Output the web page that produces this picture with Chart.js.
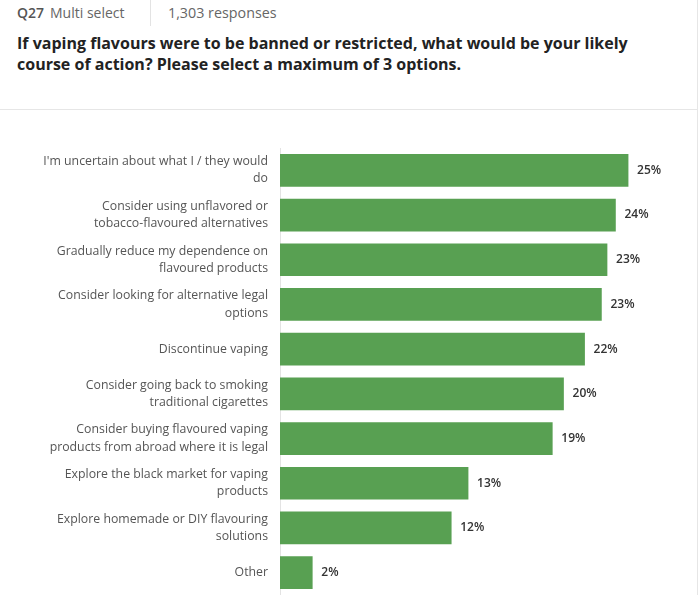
<!DOCTYPE html>
<html>
<head>
<meta charset="utf-8">
<script src="https://cdn.jsdelivr.net/npm/chart.js@4"></script>
<style>
  html, body { margin: 0; padding: 0; background: #fff; }
  body { width: 700px; height: 595px; position: relative; overflow: hidden; font-family: "Open Sans", Lato, sans-serif; }
  #frame { position: absolute; left: 0; top: 0; width: 697px; height: 595px; border-right: 1px solid #e6e6e6; }
  #meta { position: absolute; left: 17px; top: 3px; font-size: 14px; color: #666; white-space: nowrap; }
  #meta b { color: #555; font-weight: 600; margin-right: 6px; }
  #sep { position: absolute; left: 150px; top: 0; width: 1px; height: 26px; background: #e3e3e3; }
  #resp { position: absolute; left: 168px; top: 3px; font-size: 14.3px; color: #666; white-space: nowrap; }
  #title { position: absolute; left: 17px; top: 33px; width: 680px; font-size: 16px; line-height: 21px; font-weight: 700; color: #222; white-space: nowrap; }
  #hr { position: absolute; left: 0; top: 109px; width: 697px; height: 1px; background: #e6e6e6; }
  #wrap { position: absolute; left: 0; top: 110px; width: 697px; height: 485px; }
</style>
</head>
<body>
<div id="frame"></div>
<div id="meta"><b>Q27</b>Multi select</div>
<div id="sep"></div>
<div id="resp">1,303 responses</div>
<div id="title">If vaping flavours were to be banned or restricted, what would be your likely<br>course of action? Please select a maximum of 3 options.</div>
<div id="hr"></div>
<div id="wrap"><canvas id="c"></canvas></div>
<script>
const categories = [
  ["I'm uncertain about what I / they would", "do"],
  ["Consider using unflavored or", "tobacco-flavoured alternatives"],
  ["Gradually reduce my dependence on", "flavoured products"],
  ["Consider looking for alternative legal", "options"],
  ["Discontinue vaping"],
  ["Consider going back to smoking", "traditional cigarettes"],
  ["Consider buying flavoured vaping", "products from abroad where it is legal"],
  ["Explore the black market for vaping", "products"],
  ["Explore homemade or DIY flavouring", "solutions"],
  ["Other"]
];
const values = [24.8, 23.9, 23.3, 22.9, 21.7, 20.2, 19.4, 13.4, 12.2, 2.3];
const valueLabels = ["25%", "24%", "23%", "23%", "22%", "20%", "19%", "13%", "12%", "2%"];
const xMax = 28;

const labelPlugin = {
  id: 'valueLabels',
  afterDatasetsDraw(chart) {
    const ctx = chart.ctx;
    const meta = chart.getDatasetMeta(0);
    ctx.save();
    ctx.font = '600 12px "Open Sans", Lato, sans-serif';
    ctx.fillStyle = '#333';
    ctx.textBaseline = 'middle';
    ctx.textAlign = 'left';
    meta.data.forEach((bar, i) => {
      ctx.fillText(valueLabels[i], bar.x + 9, bar.y);
    });
    ctx.restore();
  }
};

new Chart(document.getElementById('c'), {
  type: 'bar',
  data: {
    labels: categories,
    datasets: [{
      data: values,
      backgroundColor: '#58a052',
      borderWidth: 0,
      barThickness: 32
    }]
  },
  options: {
    indexAxis: 'y',
    responsive: true,
    maintainAspectRatio: false,
    animation: false,
    layout: { padding: { top: 38, bottom: 0, right: 24, left: 0 } },
    plugins: { legend: { display: false }, tooltip: { enabled: false } },
    scales: {
      x: { display: false, min: 0, max: xMax },
      y: {
        grid: { display: false, drawTicks: false },
        border: { display: true, color: '#e3e3e3', width: 1 },
        ticks: {
          padding: 12,
          color: '#555',
          font: { family: '"Open Sans", Lato, sans-serif', size: 12.3, lineHeight: 1.4 },
          crossAlign: 'near'
        },
        afterFit(scale) {
          scale.width = 280;
          scale.paddingTop = 0;
          scale.paddingBottom = 0;
        }
      }
    }
  },
  plugins: [labelPlugin]
});
</script>
</body>
</html>
